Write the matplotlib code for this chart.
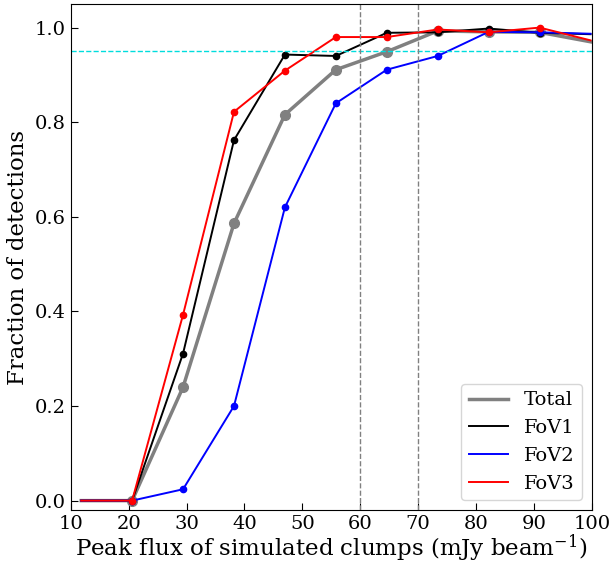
import matplotlib
matplotlib.use('Agg')
import matplotlib.pyplot as plt

# peak flux bins (mJy/beam)
flux = [11.8, 20.6, 29.4, 38.2, 47.0, 55.8, 64.6, 73.4, 82.2, 91.0, 99.8]

# fraction of detected clumps per field
total = [0.0, 0.0, 0.240, 0.586, 0.816, 0.911, 0.949, 0.993, 0.991, 0.990, 0.970]
fov1 = [0.0, 0.0, 0.311, 0.762, 0.943, 0.940, 0.989, 0.990, 0.998, 0.989, 0.986]
fov2 = [0.0, 0.0, 0.024, 0.200, 0.620, 0.840, 0.911, 0.940, 0.991, 0.990, 0.987]
fov3 = [0.0, 0.0, 0.393, 0.822, 0.909, 0.980, 0.980, 0.996, 0.990, 1.000, 0.973]

completeness = 0.95
vlines = [60, 70]

plt.rcParams['font.family'] = 'DejaVu Serif'
plt.rcParams['mathtext.fontset'] = 'dejavuserif'

fig = plt.figure(figsize=(6.10, 5.63), dpi=100)
ax = fig.add_axes([0.116, 0.094, 0.854, 0.899])

marks = slice(1, -1)
ax.plot(flux, total, color='gray', lw=2.5, marker='o', ms=7, markevery=marks, label='Total')
ax.plot(flux, fov1, color='black', lw=1.4, marker='o', ms=4.5, markevery=marks, label='FoV1')
ax.plot(flux, fov2, color='blue', lw=1.4, marker='o', ms=4.5, markevery=marks, label='FoV2')
ax.plot(flux, fov3, color='red', lw=1.4, marker='o', ms=4.5, markevery=marks, label='FoV3')

ax.axhline(completeness, color='#00dddd', ls='--', lw=1)
for v in vlines:
    ax.axvline(v, color='gray', ls='--', lw=1)

ax.set_xlim(10, 100)
ax.set_ylim(-0.02, 1.05)
ax.set_xticks(range(10, 101, 10))
ax.set_yticks([0.0, 0.2, 0.4, 0.6, 0.8, 1.0])
ax.tick_params(direction='in', labelsize=14, length=5)
ax.set_xlabel('Peak flux of simulated clumps (mJy beam$^{-1}$)', fontsize=16.5, labelpad=0)
ax.set_ylabel('Fraction of detections', fontsize=16.5)
leg = ax.legend(loc='lower right', fontsize=14)
# legend shows lines only
for h in leg.legend_handles:
    h.set_marker('')

fig.savefig('out.png', dpi=100)
